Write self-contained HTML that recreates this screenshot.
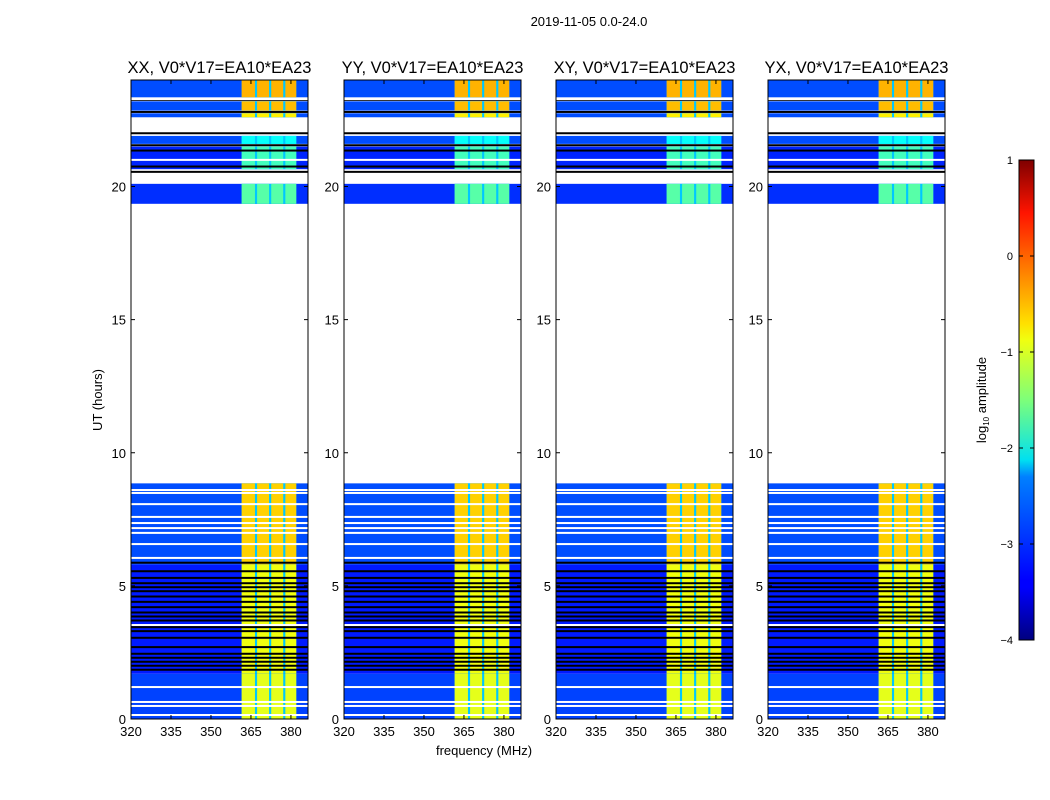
<!DOCTYPE html>
<html><head><meta charset="utf-8"><style>
body{margin:0;background:#fff;}
svg{display:block;font-family:"Liberation Sans",sans-serif;}
</style></head><body>
<svg id="fig" width="1050" height="800" xmlns="http://www.w3.org/2000/svg">
<text x="589" y="26" font-size="13" text-anchor="middle">2019-11-05 0.0-24.0</text>
<text x="484" y="755" font-size="13" text-anchor="middle">frequency (MHz)</text>
<text transform="translate(102,400) rotate(-90)" font-size="13" text-anchor="middle">UT (hours)</text>
<defs><linearGradient id="jet" x1="0" y1="1" x2="0" y2="0">
<stop offset="0" stop-color="#00007f"/><stop offset="0.11" stop-color="#0000ff"/><stop offset="0.125" stop-color="#0000ff"/>
<stop offset="0.34" stop-color="#0080ff"/><stop offset="0.375" stop-color="#00e0f0"/><stop offset="0.5" stop-color="#7dff7a"/>
<stop offset="0.625" stop-color="#f0ff10"/><stop offset="0.66" stop-color="#ffe000"/><stop offset="0.89" stop-color="#ff1400"/><stop offset="1" stop-color="#7f0000"/>
</linearGradient></defs>
<rect x="1019" y="160" width="15" height="480" fill="url(#jet)" stroke="#000"/>
<text transform="translate(986,400) rotate(-90)" font-size="13" text-anchor="middle">log<tspan font-size="8" dy="3">10</tspan><tspan dy="-3"> amplitude</tspan></text>
<g id="plots"></g>
</svg>
<script>
// ---- data ----
const panelTitles = ["XX, V0*V17=EA10*EA23","YY, V0*V17=EA10*EA23","XY, V0*V17=EA10*EA23","YX, V0*V17=EA10*EA23"];
const xTicks = [320,335,350,365,380];
const yTicks = [0,5,10,15,20];
const cbTicks = [-4,-3,-2,-1,0,1];
// time segments with data: start hour, end hour
const segStart = [0,1.7,5.8,19.35,20.65,21.6,22.6,22.85,23.35];
const segEnd   = [1.7,5.8,8.85,20.1,21.5,21.9,22.75,23.2,24];
// log10 amplitude: background and RFI band level
const segBase  = [-3.05,-3.25,-3.0,-3.15,-3.2,-3.0,-3.0,-3.0,-3.0];
const segBand  = [-1.0,-0.95,-0.65,-1.7,-1.8,-2.1,-0.8,-0.55,-0.5];
// bright frequency columns (MHz)
const colStart = [361.5,367.3,372.6,377.9];
const colEnd   = [366.5,371.8,377.1,382.0];
const gapLevel = -2.4;
// flagged rows (hours)
const whiteLines = [8.6,8.49,8.07,7.59,7.36,7.17,6.99,6.57,6.05,3.53,1.2,0.64,0.49,0.15,21.0,23.28];
const blackLines = [5.87,5.55,5.3,5.1,4.95,4.8,4.6,4.4,4.2,4.0,3.85,3.7,3.45,3.3,3.05,2.7,2.45,2.3,2.15,2.0,1.85,20.55,20.75,21.35,21.55,22.0,23.25,22.8];

function jet(v){ // v in [-4,1]
  let t=(v+4)/5; t=Math.max(0,Math.min(1,t));
  const r=Math.max(0,Math.min(1,1.5-Math.abs(4*t-3)));
  const g=Math.max(0,Math.min(1,1.5-Math.abs(4*t-2)));
  const b=Math.max(0,Math.min(1,1.5-Math.abs(4*t-1)));
  return `rgb(${Math.round(r*255)},${Math.round(g*255)},${Math.round(b*255)})`;
}
const NS="http://www.w3.org/2000/svg";
const plots=document.getElementById('plots');
function el(tag,attrs,parent){const e=document.createElementNS(NS,tag);for(const k in attrs)e.setAttribute(k,attrs[k]);parent.appendChild(e);return e;}
const panelX=[131,344,556,768], PW=177, PT=80, PB=719;
const fMin=320, fMax=386.4;
for(let p=0;p<4;p++){
  const x0=panelX[p];
  const fx=f=>x0+(f-fMin)/(fMax-fMin)*PW;
  const ty=h=>PB-h/24*(PB-PT);
  const g=el('g',{},plots);
  
  
  for(let i=0;i<segStart.length;i++){
    const y1=ty(segEnd[i]), y0=ty(segStart[i]);
    const r=el('rect',{x:x0,y:y1,width:PW,height:y0-y1,fill:jet(segBase[i])},g);
    
    
    const gp=el('rect',{x:fx(colStart[0]),y:y1,width:fx(colEnd[3])-fx(colStart[0]),height:y0-y1,fill:jet(gapLevel)},g);
    
    
    for(let c=0;c<colStart.length;c++){
      const cr=el('rect',{x:fx(colStart[c]),y:y1,width:fx(colEnd[c])-fx(colStart[c]),height:y0-y1,fill:jet(segBand[i])},g);
      
      
    }
  }
  for(const h of blackLines){
    const l=el('rect',{x:x0,y:ty(h)-1,width:PW,height:2,fill:'#000'},g);
    
    
  }
  for(const h of whiteLines){
    const l=el('rect',{x:x0,y:ty(h)-1,width:PW,height:2,fill:'#fff'},g);
    
    
  }
  const fr=el('rect',{x:x0,y:PT,width:PW,height:PB-PT,fill:'none',stroke:'#000','stroke-width':1},g);
  
  
  const t=el('text',{x:x0+PW/2,y:73,'font-size':16.5,'text-anchor':'middle'},g);
  t.textContent=panelTitles[p];
  
  
  for(const v of xTicks){
    const x=fx(v);
    el('line',{x1:x,y1:PB,x2:x,y2:PB-4,stroke:'#000'},g);
    el('line',{x1:x,y1:PT,x2:x,y2:PT+4,stroke:'#000'},g);
    const tl=el('text',{x:x,y:PB+17,'font-size':13,'text-anchor':'middle'},g);
    tl.textContent=v;
    
    
  }
  for(const v of yTicks){
    const y=ty(v);
    el('line',{x1:x0,y1:y,x2:x0+4,y2:y,stroke:'#000'},g);
    el('line',{x1:x0+PW,y1:y,x2:x0+PW-4,y2:y,stroke:'#000'},g);
    const tl=el('text',{x:x0-5,y:y+5,'font-size':13,'text-anchor':'end'},g);
    tl.textContent=v;
    
    
  }
}
const svg=document.getElementById('fig');
for(const v of cbTicks){
  const y=640-(v+4)/5*480;
  el('line',{x1:1019,y1:y,x2:1023,y2:y,stroke:'#000'},svg);
  el('line',{x1:1034,y1:y,x2:1030,y2:y,stroke:'#000'},svg);
  const tl=el('text',{x:1013,y:y+4,'font-size':11,'text-anchor':'end'},svg);
  tl.textContent=v<0?'\u2212'+(-v):v;
  
  
}
</script>
</body></html>
